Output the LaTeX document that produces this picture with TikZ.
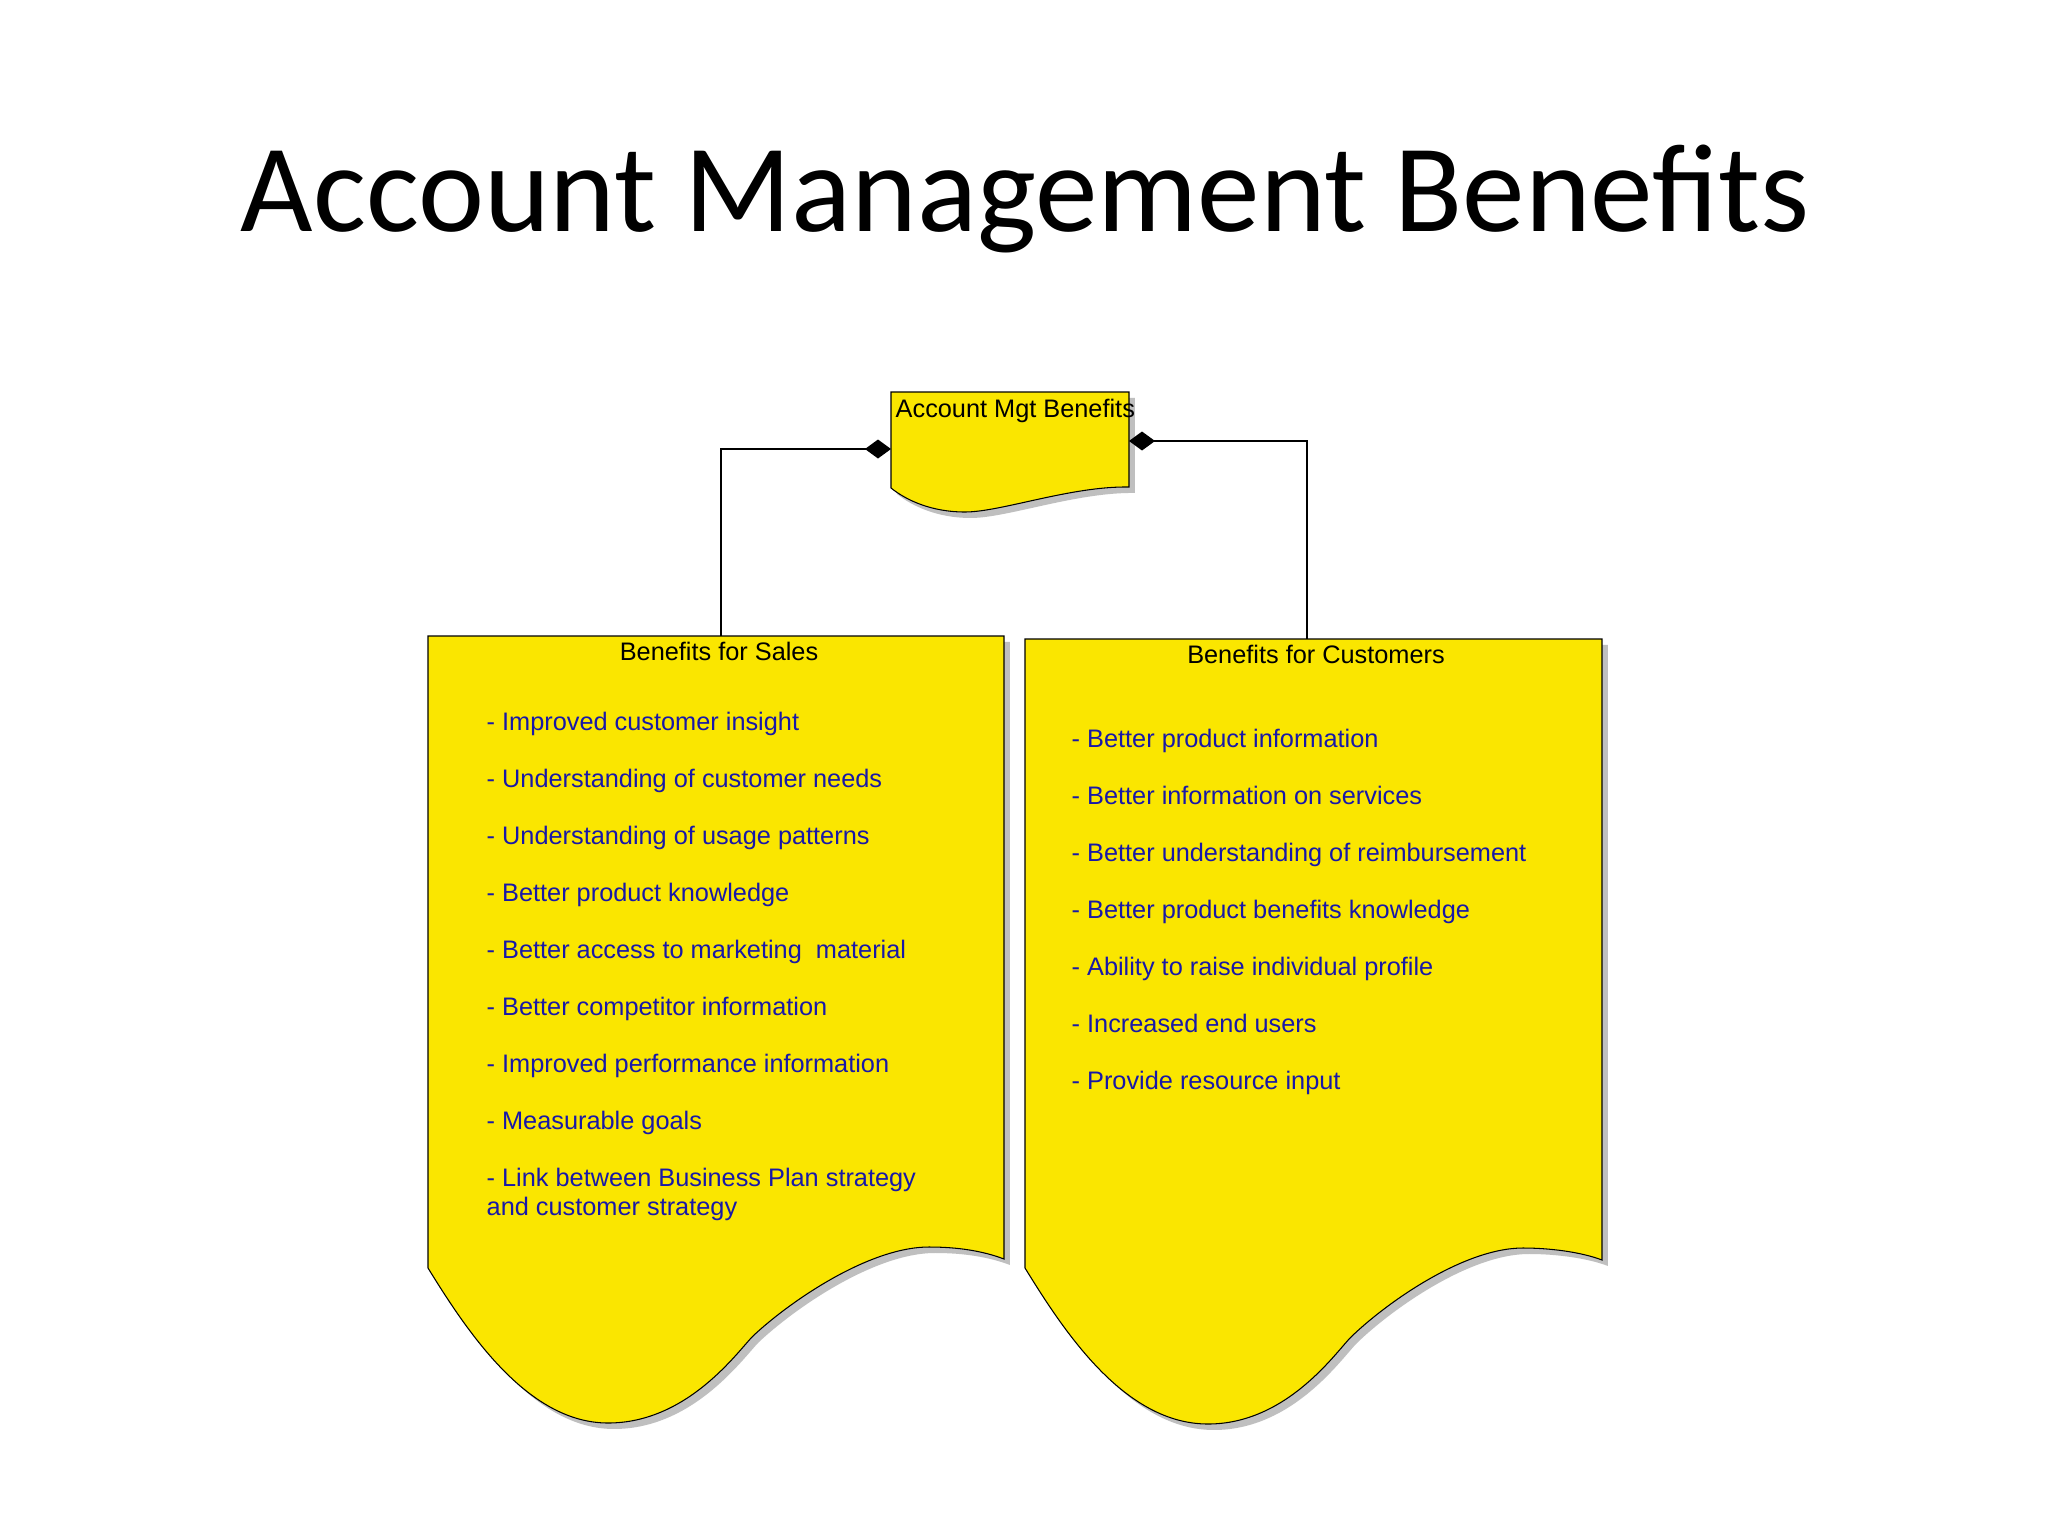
\documentclass[tikz,border=0pt]{standalone}
\usepackage{fontspec}
\usepackage{xcolor}
\setmainfont{Liberation Sans}
\newfontfamily\titlefont{Carlito}
\usetikzlibrary{arrows.meta,shadows}

\definecolor{docYellow}{RGB}{250,230,0}
\definecolor{itemBlue}{RGB}{24,24,168}

\begin{document}
\begin{tikzpicture}[x=0.01cm,y=-0.01cm,
        doc/.style = {draw=black,
            line width=0.3pt,
            fill=docYellow,
            drop shadow={shadow xshift=1.7pt, shadow yshift=-1.7pt,
                fill=black!25, opacity=1}},
        head/.style = {font=\fontsize{7.2}{8.2}\selectfont,
            inner sep=0pt},
        item/.style = {head,
            text=itemBlue,
            anchor=base west},
        link/.style = {line width=0.4pt,
            {Diamond[length=7.4pt,width=5.4pt]}-}]

        % Page
        \fill[white] (0,0) rectangle (2048,1536);
        \useasboundingbox (0,0) rectangle (2048,1536);

        % Title
        \node[font=\titlefont\fontsize{35.6}{42}\selectfont,anchor=base] (title) at (1025,231) {Account Management Benefits};

        % Account Mgt Benefits
        \begin{scope}[shift={(891,392)}]
            \draw[doc] (0,0) -- (238,0) -- (238,95)
                .. controls (180,94) and (110,120) .. (74,120)
                .. controls (40,120) and (15,108) .. (0,96) -- cycle;
        \end{scope}
        \node[head,anchor=base west] (mgt) at (895,417) {Account Mgt Benefits};

        % Benefits for Sales
        \begin{scope}[shift={(428,636)}]
            \draw[doc] (0,0) -- (576,0) -- (576,623)
                .. controls (555,615) and (530,611) .. (501,611)
                .. controls (440,611) and (360,667) .. (325,700)
                .. controls (310,715) and (260,787) .. (180,787)
                .. controls (100,787) and (40,697) .. (0,632) -- cycle;
        \end{scope}
        \node[head,anchor=base] (sales) at (719,660) {Benefits for Sales};

        % Benefits for Customers
        \begin{scope}[shift={(1025,639)}]
            \draw[doc] (0,0) -- (577,0) -- (577,621)
                .. controls (556,613) and (525,609) .. (498,609)
                .. controls (438,609) and (360,665) .. (326,698)
                .. controls (311,713) and (262,785) .. (183,785)
                .. controls (100,785) and (40,694) .. (0,629) -- cycle;
        \end{scope}
        \node[head,anchor=base] (cust) at (1316,663) {Benefits for Customers};

        % Sales items
        \foreach \y/\txt [count=\i] in {730/- Improved customer insight,
                787/- Understanding of customer needs,
                844/- Understanding of usage patterns,
                901/- Better product knowledge,
                958/- Better access to marketing~ material,
                1015/- Better competitor information,
                1072/- Improved performance information,
                1129/- Measurable goals,
                1186/- Link between Business Plan strategy,
                1215/and customer strategy}
            \node[item] (sales-\i) at (486,\y) {\txt};

        % Customer items
        \foreach \y/\txt [count=\i] in {747/- Better product information,
                804/- Better information on services,
                861/- Better understanding of reimbursement,
                918/- Better product benefits knowledge,
                975/- Ability to raise individual profile,
                1032/- Increased end users,
                1089/- Provide resource input}
            \node[item] (cust-\i) at (1071,\y) {\txt};

        % Connectors
        \coordinate (mgtL) at (891,449);
        \coordinate (mgtR) at (1129,441);
        \coordinate (salesTop) at (721,636);
        \coordinate (custTop) at (1307,639);
        \draw[link] (mgtL) -| (salesTop);
        \draw[link] (mgtR) -| (custTop);
    \end{tikzpicture}
\end{document}
